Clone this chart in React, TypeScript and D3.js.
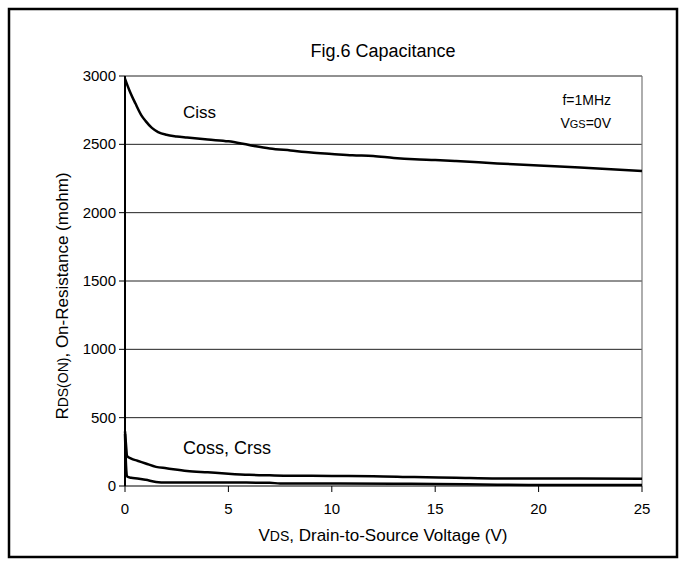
import React from "react";
import * as d3 from "d3";

const xTicks = [0, 5, 10, 15, 20, 25];
const yTicks = [0, 500, 1000, 1500, 2000, 2500, 3000];

const cissV = [0, 0.2, 0.5, 0.8, 1.0, 1.3, 1.6, 2.0, 2.5, 3, 4, 5, 6, 7, 8, 9, 10, 11, 12, 13, 14, 15, 16, 18, 20, 22, 25];
const cissC = [2980, 2900, 2800, 2710, 2670, 2620, 2590, 2570, 2558, 2550, 2535, 2522, 2495, 2470, 2455, 2440, 2430, 2420, 2415, 2400, 2390, 2385, 2378, 2360, 2345, 2330, 2305];

const cossV = [0, 0.05, 0.1, 0.3, 0.6, 1.0, 1.5, 2.0, 3, 4, 5, 6, 7, 8, 10, 12, 14, 16, 18, 20, 22, 25];
const cossC = [400, 300, 220, 200, 185, 165, 140, 130, 110, 100, 90, 82, 78, 75, 74, 72, 65, 60, 55, 55, 55, 53];

const crssV = [0, 0.05, 0.1, 0.3, 0.6, 1.0, 1.5, 2.0, 3, 5, 7, 7.5, 10, 13, 15, 18, 20, 22, 25];
const crssC = [380, 150, 70, 60, 55, 45, 30, 25, 25, 25, 24, 18, 18, 17, 15, 10, 8, 8, 8];

const W = 684, H = 567;
const left = 125, right = 642, top = 76, bottom = 486;

export default function App() {
  const x = d3.scaleLinear().domain([0, 25]).range([left, right]);
  const y = d3.scaleLinear().domain([0, 3000]).range([bottom, top]);
  const line = d3.line<[number, number]>().x(d => x(d[0])).y(d => y(d[1])).curve(d3.curveMonotoneX);
  const series = [
    cissV.map((v, i) => [v, cissC[i]] as [number, number]),
    cossV.map((v, i) => [v, cossC[i]] as [number, number]),
    crssV.map((v, i) => [v, crssC[i]] as [number, number]),
  ];
  const font = "'Liberation Sans', Arial, sans-serif";
  return (
    <svg width={W} height={H} style={{ position: "absolute", left: 0, top: 0, background: "#fff" }} fontFamily={font}>
      <rect x={9} y={9} width={668} height={548} fill="#fff" stroke="#000" strokeWidth={2.5} />
      <text x={383} y={57} textAnchor="middle" fontSize={18}>Fig.6 Capacitance</text>
      {yTicks.map(t => (
        <g key={"y" + t}>
          {t > 0 && <line x1={left} x2={right} y1={y(t)} y2={y(t)} stroke="#222" strokeWidth={1} />}
          <line x1={left - 6} x2={left} y1={y(t)} y2={y(t)} stroke="#000" strokeWidth={1} />
          <text x={left - 9} y={y(t) + 5} textAnchor="end" fontSize={15}>{t}</text>
        </g>
      ))}
      <line x1={right} x2={right} y1={top} y2={bottom} stroke="#777" strokeWidth={1.2} />
      {xTicks.map(t => (
        <g key={"x" + t}>
          <line x1={x(t)} x2={x(t)} y1={bottom} y2={bottom + 6} stroke="#000" strokeWidth={1} />
          <text x={x(t)} y={bottom + 28} textAnchor="middle" fontSize={15}>{t}</text>
        </g>
      ))}
      <line x1={left} x2={right} y1={bottom} y2={bottom} stroke="#000" strokeWidth={1.2} />
      <line x1={left} x2={left} y1={top} y2={bottom} stroke="#000" strokeWidth={2} />
      {series.map((s, i) => (
        <path key={i} d={line(s) || ""} fill="none" stroke="#000" strokeWidth={2.5} strokeLinejoin="round" />
      ))}
      <text x={183} y={118} fontSize={17}>Ciss</text>
      <text x={183} y={454} fontSize={18}>Coss, Crss</text>
      <text x={611} y={105} textAnchor="end" fontSize={14}>f=1MHz</text>
      <text x={611} y={128} textAnchor="end" fontSize={14}>V<tspan fontSize={11}>GS</tspan>=0V</text>
      <text x={383} y={541} textAnchor="middle" fontSize={17}>V<tspan fontSize={14}>DS</tspan>, Drain-to-Source Voltage (V)</text>
      <text transform={`translate(68, 296) rotate(-90)`} textAnchor="middle" fontSize={17}>R<tspan fontSize={14}>DS(ON)</tspan>, On-Resistance (mohm)</text>
    </svg>
  );
}
